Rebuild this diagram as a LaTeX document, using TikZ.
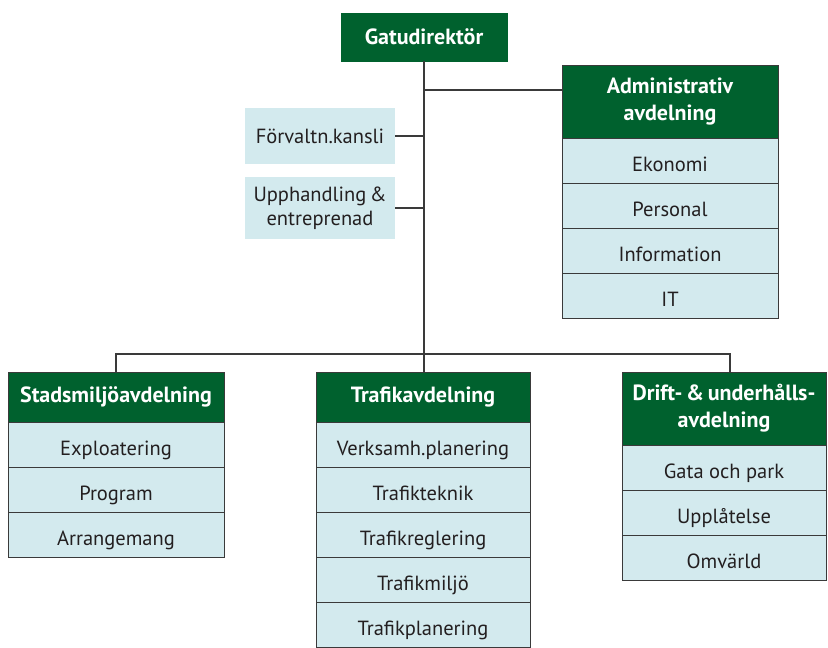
\documentclass[tikz,border=0pt]{standalone}
\usepackage{fontspec}
\setmainfont{PT Sans}
\usepackage{xcolor}
\definecolor{gatagreen}{HTML}{00612E}
\definecolor{gatalight}{HTML}{D3EAEE}
\definecolor{gataline}{HTML}{3A3A3A}
\definecolor{gatatext}{HTML}{231F20}
\usetikzlibrary{positioning}

\begin{document}
\begin{tikzpicture}[x=1pt, y=-1pt,
  head/.style={rectangle, draw=gataline, line width=0.8pt, fill=gatagreen, text=white,
    font=\fontsize{22}{27}\selectfont\bfseries, align=center, inner sep=0pt, outer sep=0pt},
  unit/.style={rectangle, draw=gataline, line width=0.8pt, fill=gatalight, text=gatatext,
    font=\fontsize{20.5}{24}\selectfont, align=center, inner sep=0pt, outer sep=0pt,
    minimum height=45pt, text height=23pt, text depth=2pt},
  staff/.style={rectangle, fill=gatalight, text=gatatext, minimum width=150pt,
    font=\fontsize{20.5}{24}\selectfont, align=center, inner sep=0pt, outer sep=0pt},
  link/.style={draw=gataline, line width=1.4pt}
]
\useasboundingbox (0,0) rectangle (828,648);

% top
\node[head, draw=gatagreen, minimum width=166pt, minimum height=48pt] (gd) at (424,37) {Gatudirektör};
\node[staff, minimum height=56pt] (fk) at (320,136) {Förvaltn.kansli};
\node[staff, minimum height=62pt] (up) at (320,208) {Upphandling\,\&\\entreprenad};

% administrativ avdelning
\node[head, minimum width=216pt, minimum height=73pt] (adm) at (670,101.5) {Administrativ\\avdelning};
\node[unit, minimum width=216pt, below=0pt of adm] (adm1) {Ekonomi};
\node[unit, minimum width=216pt, below=0pt of adm1] (adm2) {Personal};
\node[unit, minimum width=216pt, below=0pt of adm2] (adm3) {Information};
\node[unit, minimum width=216pt, below=0pt of adm3] (adm4) {IT};

% stadsmiljo
\node[head, minimum width=216pt, minimum height=50pt] (std) at (116,397) {Stadsmiljöavdelning};
\node[unit, minimum width=216pt, below=0pt of std] (std1) {Exploatering};
\node[unit, minimum width=216pt, below=0pt of std1] (std2) {Program};
\node[unit, minimum width=216pt, below=0pt of std2] (std3) {Arrangemang};

% trafik
\node[head, minimum width=214pt, minimum height=50pt] (trf) at (423,397) {Trafikavdelning};
\node[unit, minimum width=214pt, below=0pt of trf] (trf1) {Verksamh.planering};
\node[unit, minimum width=214pt, below=0pt of trf1] (trf2) {Trafikteknik};
\node[unit, minimum width=214pt, below=0pt of trf2] (trf3) {Trafikreglering};
\node[unit, minimum width=214pt, below=0pt of trf3] (trf4) {Trafikmiljö};
\node[unit, minimum width=214pt, below=0pt of trf4] (trf5) {Trafikplanering};

% drift
\node[head, minimum width=204pt, minimum height=73pt] (drf) at (724,408.5) {Drift-\,\&\,underhålls-\\avdelning};
\node[unit, minimum width=204pt, below=0pt of drf] (drf1) {Gata och park};
\node[unit, minimum width=204pt, below=0pt of drf1] (drf2) {Upplåtelse};
\node[unit, minimum width=204pt, below=0pt of drf2] (drf3) {Omvärld};

% lines
\coordinate (admtap) at (424,90);
\coordinate (bar) at (424,354);
\coordinate (drftap) at (730,372);
\draw[link] (gd.south) -- (gd.south |- trf.north);
\draw[link] (admtap) -- (admtap -| adm.west);
\draw[link] (fk.east) -- (fk.east -| gd.south);
\draw[link] (up.east) -- (up.east -| gd.south);
\draw[link] (std.north) |- (bar) -| (drftap);
\end{tikzpicture}
\end{document}
